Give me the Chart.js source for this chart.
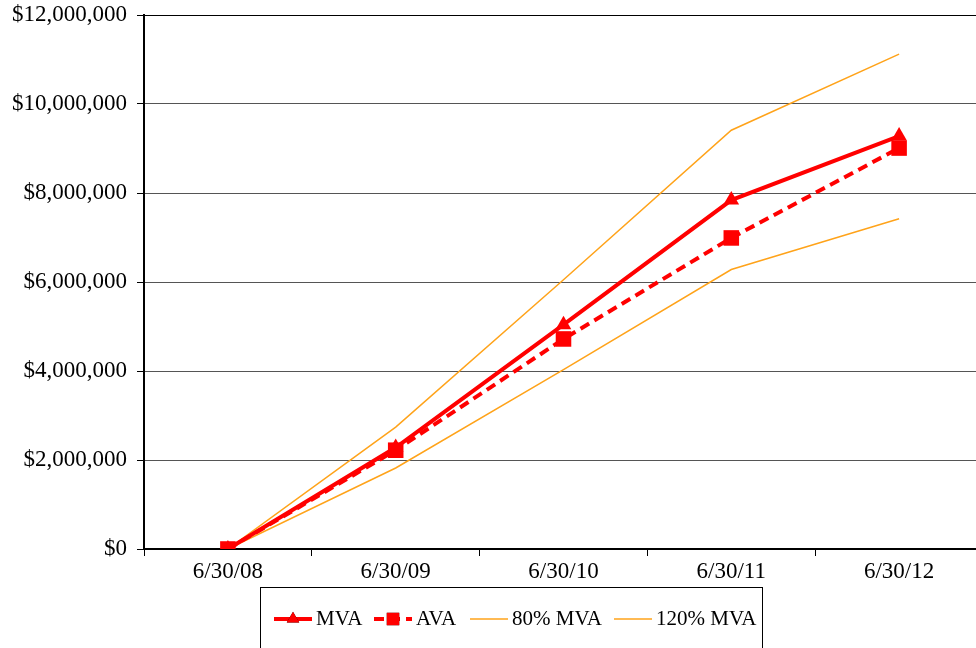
<!DOCTYPE html>
<html>
<head>
<meta charset="utf-8">
<script src="https://cdn.jsdelivr.net/npm/chart.js@4.4.1/dist/chart.umd.min.js"></script>
<style>
  html, body { margin: 0; padding: 0; background: #fff; overflow: hidden; }
  #wrap { width: 976px; height: 648px; overflow: hidden; }
</style>
</head>
<body>
<!-- the plot area of the original runs a few pixels past the right edge, so the canvas is a bit wider and clipped -->
<div id="wrap"><canvas id="chart" width="983" height="648"></canvas></div>
<script>
const dates = ['6/30/08', '6/30/09', '6/30/10', '6/30/11', '6/30/12'];
const mva = [0, 2280000, 5040000, 7840000, 9280000];
const ava = [0, 2220000, 4720000, 6990000, 9010000];
const mva80 = [0, 1820000, 4030000, 6280000, 7420000];
const mva120 = [0, 2740000, 6050000, 9410000, 11120000];
const yTicks = [0, 2000000, 4000000, 6000000, 8000000, 10000000, 12000000];

const FONT = "'Liberation Serif', 'Times New Roman', serif";
const RED = '#FF0000';
const ORANGE = '#FFA31A';

const money = (v) => '$' + Math.round(v).toLocaleString('en-US');

// legend drawn by hand: line sample + marker + text, inside a bordered box
const boxLegend = {
  id: 'boxLegend',
  afterDraw(chart) {
    const ctx = chart.ctx;
    const boxLeft = 260, boxRight = 762, boxTop = 587;
    const cy = 619;
    ctx.save();
    ctx.strokeStyle = '#000';
    ctx.lineWidth = 1;
    ctx.strokeRect(boxLeft + 0.5, boxTop + 0.5, boxRight - boxLeft, 80);
    ctx.font = '21px ' + FONT;
    ctx.textBaseline = 'middle';
    ctx.fillStyle = '#000';
    const starts = [274, 374, 470, 614];
    chart.data.datasets.forEach((ds, i) => {
      const x0 = starts[i];
      const x1 = x0 + 38;
      ctx.save();
      ctx.strokeStyle = ds.borderColor;
      ctx.lineWidth = ds.borderWidth;
      ctx.setLineDash(ds.borderDash || []);
      ctx.beginPath();
      ctx.moveTo(x0, cy);
      ctx.lineTo(x1, cy);
      ctx.stroke();
      ctx.restore();
      if (ds.pointRadius > 0) {
        Chart.helpers.drawPoint(ctx, {
          pointStyle: ds.pointStyle,
          radius: ds.pointRadius * 0.8,
          borderWidth: 0
        }, (x0 + x1) / 2, cy);
        ctx.fillStyle = ds.pointBackgroundColor;
        ctx.fill();
        ctx.fillStyle = '#000';
      }
      ctx.fillText(ds.label, x1 + 4, cy);
    });
    ctx.restore();
  }
};

new Chart(document.getElementById('chart'), {
  type: 'line',
  data: {
    labels: dates,
    datasets: [
      {
        label: 'MVA', data: mva, order: 2,
        borderColor: RED, backgroundColor: RED, borderWidth: 4,
        pointStyle: 'triangle', pointRadius: 9,
        pointBackgroundColor: RED, pointBorderColor: RED, pointBorderWidth: 0
      },
      {
        label: 'AVA', data: ava, order: 1,
        borderColor: RED, backgroundColor: RED, borderWidth: 4, borderDash: [10, 6],
        pointStyle: 'rect', pointRadius: 11,
        pointBackgroundColor: RED, pointBorderColor: RED, pointBorderWidth: 0
      },
      {
        label: '80% MVA', data: mva80, order: 3,
        borderColor: ORANGE, backgroundColor: ORANGE, borderWidth: 1.5, pointRadius: 0
      },
      {
        label: '120% MVA', data: mva120, order: 3,
        borderColor: ORANGE, backgroundColor: ORANGE, borderWidth: 1.5, pointRadius: 0
      }
    ]
  },
  options: {
    responsive: false,
    animation: false,
    devicePixelRatio: 1,
    layout: { autoPadding: false, padding: { top: 15, right: 0, left: 0, bottom: 59 } },
    plugins: { legend: { display: false }, tooltip: { enabled: false } },
    elements: { line: { tension: 0 } },
    scales: {
      x: {
        offset: true,
        afterFit: (scale) => {
          scale.height = 40;
          scale.paddingLeft = 0;
          scale.paddingRight = 0;
        },
        border: { color: '#000', width: 2 },
        grid: {
          offset: true, drawOnChartArea: false, drawTicks: true,
          tickLength: 7, tickColor: '#000', tickWidth: 1
        },
        ticks: { color: '#000', font: { family: FONT, size: 23 }, padding: 2, maxRotation: 0 }
      },
      y: {
        min: 0, max: 12000000,
        afterFit: (scale) => {
          scale.width = 144;
          scale.paddingTop = 0;
          scale.paddingBottom = 0;
        },
        afterBuildTicks: (scale) => { scale.ticks = yTicks.map((v) => ({ value: v })); },
        border: { color: '#000', width: 2 },
        grid: {
          color: (c) => (c.tick && c.tick.value === 12000000 ? '#000' : '#555'),
          lineWidth: 1, borderDash: [4, 2],
          tickLength: 7, tickColor: '#000', tickWidth: 1, tickBorderDash: []
        },
        ticks: {
          color: '#000', font: { family: FONT, size: 23 }, padding: 10,
          callback: (v) => money(v)
        }
      }
    }
  },
  plugins: [boxLegend]
});
</script>
</body>
</html>
